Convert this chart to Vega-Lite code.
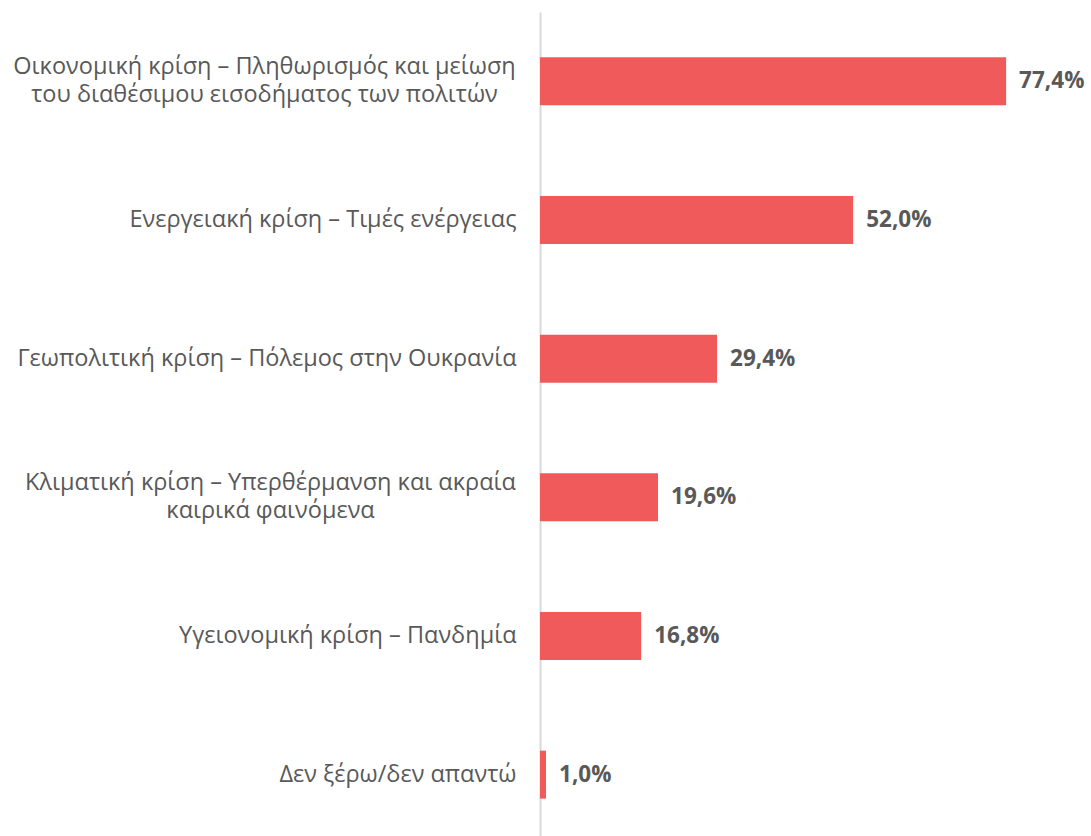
{
  "$schema": "https://vega.github.io/schema/vega-lite/v6.json",
  "width": 542,
  "height": 832,
  "autosize": {"type": "none"},
  "padding": {"left": 540, "top": 12, "right": 9, "bottom": 0},
  "background": "white",
  "config": {"view": {"stroke": null}, "font": "Open Sans"},
  "data": {
    "values": [
      {"cat": "Οικονομική κρίση – Πληθωρισμός και μείωση|του διαθέσιμου εισοδήματος των πολιτών", "value": 77.4, "text": "77,4%"},
      {"cat": "Ενεργειακή κρίση – Τιμές ενέργειας", "value": 52.0, "text": "52,0%"},
      {"cat": "Γεωπολιτική κρίση – Πόλεμος στην Ουκρανία", "value": 29.4, "text": "29,4%"},
      {"cat": "Κλιματική κρίση – Υπερθέρμανση και ακραία|καιρικά φαινόμενα", "value": 19.6, "text": "19,6%"},
      {"cat": "Υγειονομική κρίση – Πανδημία", "value": 16.8, "text": "16,8%"},
      {"cat": "Δεν ξέρω/δεν απαντώ", "value": 1.0, "text": "1,0%"}
    ]
  },
  "encoding": {
    "y": {
      "field": "cat",
      "type": "nominal",
      "sort": null,
      "scale": {"paddingInner": 0.654, "paddingOuter": 0.327},
      "axis": {
        "title": null,
        "ticks": false,
        "domainColor": "#d9d9d9",
        "domainWidth": 2,
        "labelFontSize": 23.5,
        "labelColor": "#595959",
        "labelLineHeight": 28,
        "labelLimit": 0,
        "labelAlign": {"condition": {"test": "indexof(datum.value, '|') >= 0", "value": "center"}, "value": "right"},
        "labelOffset": {"condition": {"test": "indexof(datum.value, '|') >= 0", "value": -14}, "value": 0},
        "labelPadding": {"condition": [
          {"test": "indexof(datum.value, 'Οικονομική') >= 0", "value": 276},
          {"test": "indexof(datum.value, 'Κλιματική') >= 0", "value": 270}
        ], "value": 24},
        "labelExpr": "split(datum.label, '|')"
      }
    },
    "x": {
      "field": "value",
      "type": "quantitative",
      "scale": {"domain": [0, 90]},
      "axis": null
    }
  },
  "layer": [
    {"mark": {"type": "bar", "color": "#f05a5a"}},
    {
      "mark": {"type": "text", "align": "left", "baseline": "middle", "dx": 13, "fontWeight": "bold", "fontSize": 22.5, "color": "#595959"},
      "encoding": {"text": {"field": "text"}}
    }
  ]
}
